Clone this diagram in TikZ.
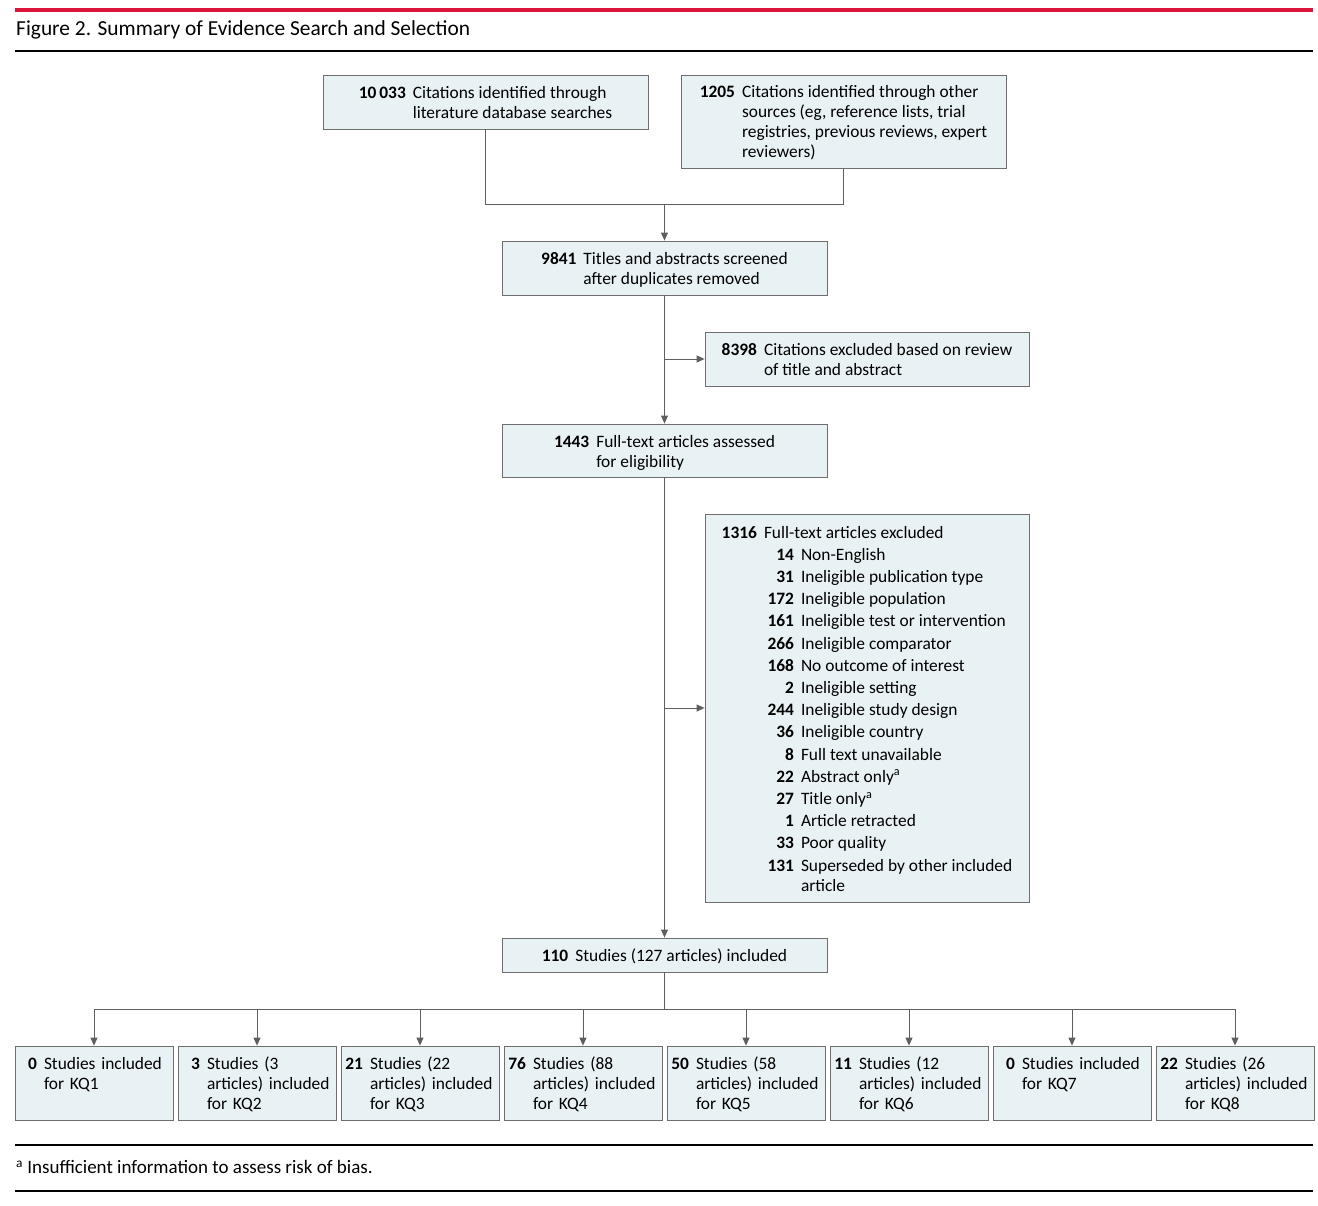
\documentclass[tikz,border=0pt]{standalone}
\usepackage{fontspec}
\setmainfont{Carlito}
\usetikzlibrary{arrows.meta}
\definecolor{boxfill}{RGB}{232,242,244}
\definecolor{boxline}{RGB}{110,110,110}
\definecolor{lnk}{RGB}{95,95,95}
\definecolor{jamared}{RGB}{220,20,60}
\newcommand\dn[1]{\raisebox{-2.5pt}[\height][\depth]{#1}}
\newcommand\sitem[2]{\makebox[30pt][r]{\textbf{#1}}\hspace{7pt}#2}
\newcommand\kq[4]{\dn{\begin{tabular}{@{}l@{\hspace{7pt}}l@{}}\makebox[17pt][r]{\textbf{#1}} & #2\\ & #3\\ & #4\end{tabular}}}
\newcommand\two[3]{\dn{\begin{tabular}{@{}r@{\hspace{7pt}}l@{}}\textbf{#1} & #2\\ & #3\end{tabular}}}
\begin{document}
\begin{tikzpicture}[x=1pt,y=-1pt,
  box/.style={draw=boxline, fill=boxfill, line width=0.8pt, inner sep=0pt, font=\fontsize{17.4}{20}\selectfont},
  link/.style={draw=lnk, line width=0.9pt},
  arr/.style={link, -{Triangle[width=7pt,length=8pt]}}]
\useasboundingbox (0,0) rectangle (1318,1206);
\fill[white] (0,0) rectangle (1318,1206);
\draw[jamared, line width=4pt] (15,10) -- (1313,10);
\node[anchor=west, inner sep=0pt, font=\fontsize{21.4}{24}\selectfont] (title) at (16,30) {Figure 2. Summary of Evidence Search and Selection};
\draw[black, line width=2.5pt] (15,51) -- (1313,51);

\node[box, minimum width=325pt, minimum height=54pt] (a) at (485.5,102)
  {\two{10\,033}{Citations identified through}{literature database searches}};
\node[box, minimum width=325pt, minimum height=93pt] (b) at (843.5,121.5)
  {\dn{\begin{tabular}{@{}r@{\hspace{7pt}}l@{}}\textbf{1205} & Citations identified through other\\ & sources (eg, reference lists, trial\\ & registries, previous reviews, expert\\ & reviewers)\end{tabular}}};
\node[box, minimum width=325pt, minimum height=54pt] (c) at (664.5,268)
  {\two{9841}{Titles and abstracts screened}{after duplicates removed}};
\node[box, minimum width=324pt, minimum height=54pt] (e) at (867,359)
  {\two{8398}{Citations excluded based on review}{of title and abstract}};
\node[box, minimum width=325pt, minimum height=53pt] (d) at (664.5,450.5)
  {\two{1443}{Full-text articles assessed}{for eligibility}};
\node[box, minimum width=324pt, minimum height=388pt] (g) at (867,708)
  {\dn{\begin{tabular}{@{}r@{\hspace{7pt}}l@{}}
   \textbf{1316} & Full-text articles excluded\\[2.2pt]
   & \sitem{14}{Non-English}\\[2.2pt]
   & \sitem{31}{Ineligible publication type}\\[2.2pt]
   & \sitem{172}{Ineligible population}\\[2.2pt]
   & \sitem{161}{Ineligible test or intervention}\\[2.2pt]
   & \sitem{266}{Ineligible comparator}\\[2.2pt]
   & \sitem{168}{No outcome of interest}\\[2.2pt]
   & \sitem{2}{Ineligible setting}\\[2.2pt]
   & \sitem{244}{Ineligible study design}\\[2.2pt]
   & \sitem{36}{Ineligible country}\\[2.2pt]
   & \sitem{8}{Full text unavailable}\\[2.2pt]
   & \sitem{22}{Abstract only\textsuperscript{a}}\\[2.2pt]
   & \sitem{27}{Title only\textsuperscript{a}}\\[2.2pt]
   & \sitem{1}{Article retracted}\\[2.2pt]
   & \sitem{33}{Poor quality}\\[2.2pt]
   & \sitem{131}{Superseded by other included}\\
   & \hspace{37pt}article
  \end{tabular}}};
\node[box, minimum width=325pt, minimum height=34pt] (f) at (664.5,955)
  {\dn{\begin{tabular}{@{}r@{\hspace{7pt}}l@{}}\textbf{110} & Studies (127 articles) included\end{tabular}}};

\foreach \i/\n/\la/\lb/\lc in {
  1/0/Studies included/for KQ1/{},
  2/3/Studies (3/articles) included/for KQ2,
  3/21/Studies (22/articles) included/for KQ3,
  4/76/Studies (88/articles) included/for KQ4,
  5/50/Studies (58/articles) included/for KQ5,
  6/11/Studies (12/articles) included/for KQ6,
  7/0/Studies included/for KQ7/{},
  8/22/Studies (26/articles) included/for KQ8}{
  \node[box, minimum width=158pt, minimum height=74pt, text width=148pt, align=left]
    (q\i) at ({94+163*(\i-1)},1083) {\kq{\n}{\la}{\lb}{\lc}};
}

% connectors
\coordinate (j) at (664.5,204);
\coordinate (k) at (664.5,1009);
\draw[link] (a.south) |- (j);
\draw[link] (b.south) |- (j);
\draw[arr] (j) -- (c.north);
\draw[arr] (c.south) -- (d.north);
\draw[arr] (c.south |- e.west) -- (e.west);
\draw[arr] (d.south) -- (f.north);
\draw[arr] (d.south |- g.west) -- (g.west);
\draw[link] (f.south) -- (k);
\foreach \i in {1,...,8}{\draw[arr] (k) -| (q\i.north);}

\draw[black, line width=2pt] (15,1145) -- (1313,1145);
\node[anchor=west, inner sep=0pt, font=\fontsize{19}{22}\selectfont] (fn) at (16,1167) {\textsuperscript{a} Insufficient information to assess risk of bias.};
\draw[black, line width=2pt] (15,1191) -- (1313,1191);
\end{tikzpicture}
\end{document}
